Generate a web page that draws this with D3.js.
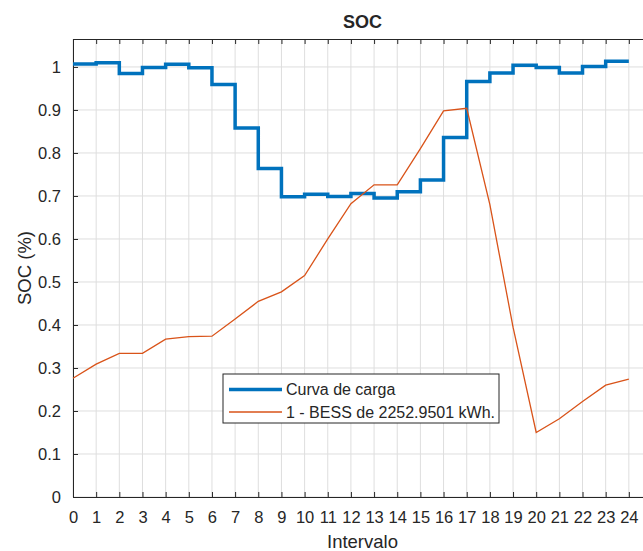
<!DOCTYPE html>
<html>
<head>
<meta charset="utf-8">
<script src="https://cdn.jsdelivr.net/npm/d3@7"></script>
<style>
  body { margin: 0; background: #fff; }
  text { font-family: "Liberation Sans", Arial, sans-serif; fill: #262626; }
</style>
</head>
<body>
<svg id="chart" width="643" height="551"></svg>
<script>
// intervals 0..24
const intervals = d3.range(0, 25)

// blue stairs: value held from interval i to i+1 (last repeats the final step)
const curvaCarga = [
  1.007, 1.010, 0.985, 0.999, 1.006, 0.998, 0.959, 0.858, 0.764, 0.698,
  0.704, 0.699, 0.706, 0.695, 0.710, 0.737, 0.836, 0.966, 0.986, 1.004,
  0.999, 0.986, 1.001, 1.013, 1.013
]

// orange line: BESS state of charge at each interval
const bess = [
  0.276, 0.309, 0.334, 0.334, 0.367, 0.373, 0.374, 0.414, 0.455, 0.477,
  0.515, 0.600, 0.682, 0.726, 0.726, 0.810, 0.898, 0.904, 0.680, 0.395,
  0.150, 0.182, 0.222, 0.260, 0.274
]

const xTicks = d3.range(0, 25)
const yTicks = d3.range(0, 11).map(d => d / 10)

const seriesNames = ['Curva de carga', '1 - BESS de 2252.9501 kWh.']
const colors = ['#0072BD', '#D95319']

const svg = d3.select('#chart')
// the axes box runs to x = 25, past the right edge of the picture
const margin = { left: 73, right: 652, top: 39, bottom: 497 }
const cx = (margin.left + margin.right) / 2

const x = d3.scaleLinear().domain([0, 25]).range([margin.left, margin.right])
const y = d3.scaleLinear().domain([0, 1.065]).range([margin.bottom, margin.top])

// ------------------
// Grid
// ------------------
const grid = svg.append('g')
grid.selectAll('.vg')
  .data(xTicks)
  .enter().append('line')
  .attr('x1', d => x(d)).attr('x2', d => x(d))
  .attr('y1', margin.top).attr('y2', margin.bottom)
  .attr('stroke', '#dedede').attr('stroke-width', 1)
grid.selectAll('.hg')
  .data(yTicks)
  .enter().append('line')
  .attr('x1', margin.left).attr('x2', margin.right)
  .attr('y1', d => y(d)).attr('y2', d => y(d))
  .attr('stroke', '#dedede').attr('stroke-width', 1)

// ------------------
// Axes (MATLAB style: ticks inside, box)
// ------------------
const xAxis = svg.append('g')
  .attr('transform', `translate(0,${margin.bottom})`)
  .call(d3.axisBottom(x).tickValues(xTicks).tickSizeInner(-5).tickSizeOuter(0).tickPadding(14))
const xAxisTop = svg.append('g')
  .attr('transform', `translate(0,${margin.top})`)
  .call(d3.axisTop(x).tickValues(xTicks).tickSizeInner(-5).tickSizeOuter(0).tickFormat(''))
const yAxis = svg.append('g')
  .attr('transform', `translate(${margin.left},0)`)
  .call(d3.axisLeft(y).tickValues(yTicks).tickSizeInner(-5).tickSizeOuter(0).tickPadding(12)
    .tickFormat(d => d === 0 ? '0' : d === 1 ? '1' : d3.format('.1f')(d)))

;[xAxis, xAxisTop, yAxis].forEach(a => {
  a.select('.domain').attr('stroke', '#262626').attr('stroke-width', 1)
  a.selectAll('.tick line').attr('stroke', '#262626')
  a.selectAll('.tick text').attr('font-size', 16.5).attr('fill', '#262626')
    .style('font-family', '"Liberation Sans", Arial, sans-serif')
})

// ------------------
// Series
// ------------------
const plot = svg.append('g')

const stairs = d3.line()
  .x((d, i) => x(intervals[i]))
  .y(d => y(d))
  .curve(d3.curveStepAfter)

plot.append('path')
  .datum(curvaCarga)
  .attr('d', stairs)
  .attr('fill', 'none')
  .attr('stroke', colors[0])
  .attr('stroke-width', 3.5)

const line = d3.line()
  .x((d, i) => x(intervals[i]))
  .y(d => y(d))

plot.append('path')
  .datum(bess)
  .attr('d', line)
  .attr('fill', 'none')
  .attr('stroke', colors[1])
  .attr('stroke-width', 1.3)

// ------------------
// Legend
// ------------------
const legend = svg.append('g').attr('transform', 'translate(223,374)')
legend.append('rect')
  .attr('width', 276).attr('height', 49)
  .attr('fill', '#fff').attr('stroke', '#262626').attr('stroke-width', 1)

seriesNames.forEach((name, i) => {
  const ly = 15.5 + i * 22.5
  legend.append('line')
    .attr('x1', 6).attr('x2', 59)
    .attr('y1', ly).attr('y2', ly)
    .attr('stroke', colors[i])
    .attr('stroke-width', i === 0 ? 3.5 : 1.3)
  legend.append('text')
    .attr('x', 63).attr('y', ly)
    .attr('dy', '0.35em')
    .attr('font-size', 16)
    .text(name)
})

// ------------------
// Labels
// ------------------
svg.append('text')
  .attr('x', cx).attr('y', 28)
  .attr('text-anchor', 'middle')
  .attr('font-size', 18)
  .attr('font-weight', 'bold')
  .text('SOC')

svg.append('text')
  .attr('x', cx).attr('y', 548)
  .attr('text-anchor', 'middle')
  .attr('font-size', 18.5)
  .text('Intervalo')

svg.append('text')
  .attr('transform', `translate(31,${(margin.top + margin.bottom) / 2}) rotate(-90)`)
  .attr('text-anchor', 'middle')
  .attr('font-size', 18.5)
  .text('SOC (%)')
</script>
</body>
</html>
